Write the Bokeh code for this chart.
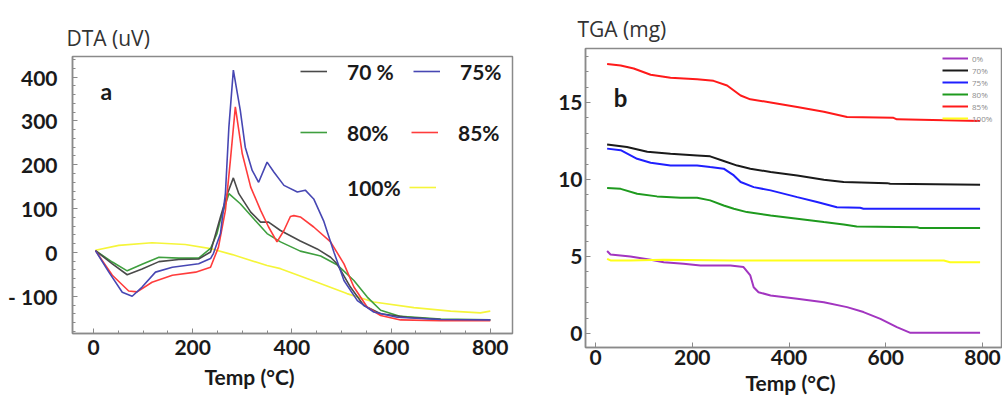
from bokeh.plotting import figure
from bokeh.models import Legend, LegendItem, Label, FixedTicker, Title
from bokeh.layouts import row, column
from bokeh.embed import file_html
from bokeh.resources import INLINE

# ---------------- Panel a: DTA (uV) ----------------
DTA_X_TICKS = [0, 200, 400, 600, 800]
DTA_Y_TICKS = [-100, 0, 100, 200, 300, 400]

T70 = [4, 38, 68, 98, 132, 172, 212, 236, 256, 270, 282, 293, 317, 337, 353, 377, 417, 451, 478, 491, 518, 545, 579, 632, 700, 800]
D70 = [4, -26, -51, -38, -21, -16, -15, 1, 81, 134, 170, 134, 92, 69, 69, 50, 26, 8, -11, -26, -79, -121, -140, -148, -153, -154]

T75 = [4, 31, 58, 78, 98, 125, 159, 212, 236, 242, 256, 266, 273, 282, 296, 306, 320, 333, 350, 364, 384, 411, 427, 444, 464, 485, 505, 532, 565, 612, 700, 800]
D75 = [4, -45, -91, -100, -79, -45, -34, -26, -14, -2, 43, 135, 286, 416, 324, 240, 187, 160, 206, 183, 153, 138, 142, 122, 72, 0, -64, -110, -136, -148, -153, -154]

T80 = [4, 38, 68, 98, 132, 172, 212, 236, 249, 256, 273, 296, 323, 350, 377, 417, 458, 491, 525, 552, 579, 619, 700, 800]
D80 = [4, -22, -42, -27, -11, -13, -13, 9, 43, 75, 134, 111, 77, 43, 24, 3, -8, -28, -64, -102, -132, -146, -152, -154]

T85 = [4, 38, 71, 88, 118, 159, 206, 236, 252, 266, 276, 286, 300, 317, 337, 353, 370, 384, 397, 404, 417, 444, 478, 505, 525, 552, 579, 619, 700, 800]
D85 = [4, -52, -88, -90, -68, -52, -45, -34, 12, 96, 210, 332, 225, 149, 96, 58, 24, 50, 82, 84, 81, 58, 24, -26, -79, -125, -144, -154, -156, -156]

T100 = [4, 51, 118, 185, 239, 280, 350, 377, 444, 511, 565, 646, 720, 780, 800]
D100 = [5, 16, 22, 18, 8, -5, -30, -37, -65, -94, -113, -126, -134, -138, -134]

# ---------------- Panel b: TGA (mg) ----------------
TGA_X_TICKS = [0, 200, 400, 600, 800]
TGA_Y_TICKS = [0, 5, 10, 15]

TG_T0 = [24, 31, 72, 114, 141, 182, 217, 279, 306, 320, 327, 337, 362, 417, 472, 520, 554, 589, 623, 651, 795]
TG_0 = [5.35, 5.13, 5.0, 4.78, 4.63, 4.52, 4.42, 4.42, 4.31, 3.77, 3.0, 2.68, 2.47, 2.25, 2.03, 1.71, 1.39, 0.95, 0.41, 0.04, 0.04]

TG_T70 = [24, 65, 107, 155, 210, 237, 265, 293, 320, 362, 417, 472, 513, 603, 609, 795]
TG_70 = [12.27, 12.1, 11.8, 11.67, 11.56, 11.5, 11.2, 10.9, 10.7, 10.48, 10.26, 9.98, 9.83, 9.76, 9.72, 9.65]

TG_T75 = [24, 52, 86, 114, 155, 210, 237, 265, 286, 300, 327, 362, 417, 458, 499, 547, 554, 795]
TG_75 = [12.0, 11.9, 11.34, 11.08, 10.9, 10.9, 10.8, 10.7, 10.26, 9.83, 9.5, 9.29, 8.85, 8.53, 8.2, 8.16, 8.1, 8.1]

TG_T80 = [24, 52, 86, 127, 176, 210, 237, 265, 286, 313, 362, 417, 472, 513, 540, 665, 671, 795]
TG_80 = [9.44, 9.39, 9.07, 8.9, 8.81, 8.81, 8.64, 8.31, 8.1, 7.88, 7.66, 7.45, 7.23, 7.08, 6.95, 6.9, 6.84, 6.84]

TG_T85 = [24, 52, 79, 114, 155, 210, 244, 272, 300, 320, 362, 417, 472, 520, 616, 623, 795]
TG_85 = [17.5, 17.4, 17.2, 16.8, 16.6, 16.5, 16.4, 16.1, 15.45, 15.2, 15.0, 14.7, 14.4, 14.05, 14.0, 13.9, 13.8]

TG_T100 = [24, 31, 72, 141, 279, 554, 720, 733, 795]
TG_100 = [4.85, 4.74, 4.74, 4.78, 4.74, 4.74, 4.74, 4.63, 4.63]

FRAME = "#8a8a8a"
TXT = "#1a1a1a"
BOLD_FONT = "Lato"


def style_axes(p):
    p.xgrid.visible = False
    p.ygrid.visible = False
    p.outline_line_color = FRAME
    p.outline_line_width = 1.5
    for ax in (p.xaxis[0], p.yaxis[0]):
        ax.axis_line_color = FRAME
        ax.axis_line_width = 1.5
        ax.major_tick_line_color = FRAME
        ax.minor_tick_line_color = FRAME
        ax.major_tick_in = 5
        ax.major_tick_out = 0
        ax.minor_tick_in = 3
        ax.minor_tick_out = 0
        ax.major_label_text_font = BOLD_FONT
        ax.major_label_text_font_style = "bold"
        ax.major_label_text_font_size = "21px"
        ax.major_label_text_color = TXT


def add_titles(p, top_text, top_offset, top_valign, bottom_text, bottom_offset, bottom_standoff):
    p.add_layout(Title(text=top_text, align="left", offset=top_offset,
                       text_font="Open Sans", text_font_size="21px",
                       text_font_style="normal", text_color="#333333",
                       vertical_align=top_valign), "above")
    p.add_layout(Title(text=bottom_text, align="left", offset=bottom_offset,
                       text_font=BOLD_FONT, text_font_size="21px",
                       text_font_style="bold", text_color=TXT,
                       standoff=bottom_standoff), "below")


# ---------- figure a ----------
p1 = figure(width=530, height=397, x_range=(-42.3, 844.8), y_range=(-185, 447),
            output_backend="svg", toolbar_location=None,
            min_border_left=72, min_border_right=18, min_border_top=56, min_border_bottom=64)
style_axes(p1)
p1.xaxis.ticker = FixedTicker(ticks=DTA_X_TICKS, minor_ticks=list(range(-50, 850, 50)))
p1.yaxis.ticker = FixedTicker(ticks=DTA_Y_TICKS, minor_ticks=list(range(-180, 441, 20)))
p1.yaxis.major_label_overrides = {-100: "- 100"}
p1.xaxis.major_label_standoff = 6
p1.yaxis.major_label_standoff = 15
add_titles(p1, "DTA (uV)", -6, "bottom", "Temp (°C)", 132, 8)

r100 = p1.line(T100, D100, line_color="#f5f53a", line_width=1.6)
r80 = p1.line(T80, D80, line_color="#3f9f3f", line_width=1.6)
r70 = p1.line(T70, D70, line_color="#4a4a4a", line_width=1.6)
r85 = p1.line(T85, D85, line_color="#ff3c3c", line_width=1.6)
r75 = p1.line(T75, D75, line_color="#4747b3", line_width=1.6)
r_blank = p1.line(x=[], y=[], line_alpha=0)

leg_a = dict(orientation="horizontal", glyph_width=27, glyph_height=26, label_height=26,
             label_width=50, label_standoff=20, padding=0, margin=0,
             border_line_color=None, background_fill_alpha=0,
             label_text_font=BOLD_FONT, label_text_font_style="bold",
             label_text_font_size="21px", label_text_color=TXT)
p1.add_layout(Legend(items=[LegendItem(label="70 %", renderers=[r70]),
                            LegendItem(label="75%", renderers=[r75])],
                     location=(228, 249), spacing=16, **leg_a))
p1.add_layout(Legend(items=[LegendItem(label="80%", renderers=[r80]),
                            LegendItem(label="85%", renderers=[r85])],
                     location=(228, 188), spacing=14, **leg_a))
p1.add_layout(Legend(items=[LegendItem(label="100%", renderers=[r_blank]),
                            LegendItem(label=" ", renderers=[r100])],
                     location=(228, 133), spacing=8, **leg_a))

p1.add_layout(Label(x=26, y=368, text="a", text_font=BOLD_FONT, text_font_style="bold",
                    text_font_size="23px", text_color=TXT, text_align="center",
                    text_baseline="middle"))

# ---------- figure b ----------
p2 = figure(width=472, height=397, x_range=(-20.7, 839.3), y_range=(-0.91, 18.5),
            output_backend="svg", toolbar_location=None,
            min_border_left=55, min_border_right=1, min_border_top=48, min_border_bottom=50)
style_axes(p2)
p2.xaxis.ticker = FixedTicker(ticks=TGA_X_TICKS)
p2.yaxis.ticker = FixedTicker(ticks=TGA_Y_TICKS, minor_ticks=list(range(0, 19)))
p2.xaxis.major_label_standoff = 2
p2.yaxis.major_label_standoff = 3
add_titles(p2, "TGA (mg)", -8, "middle", "Temp (°C)", 160, 0)

q0 = p2.line(TG_T0, TG_0, line_color="#a235c0", line_width=2)
q100 = p2.line(TG_T100, TG_100, line_color="#ffff1a", line_width=2)
q80 = p2.line(TG_T80, TG_80, line_color="#1e9a1e", line_width=2)
q75 = p2.line(TG_T75, TG_75, line_color="#1f1fff", line_width=2)
q70 = p2.line(TG_T70, TG_70, line_color="#1a1a1a", line_width=2)
q85 = p2.line(TG_T85, TG_85, line_color="#ff1a1a", line_width=2)

p2.add_layout(Legend(items=[LegendItem(label="0%", renderers=[q0]),
                            LegendItem(label="70%", renderers=[q70]),
                            LegendItem(label="75%", renderers=[q75]),
                            LegendItem(label="80%", renderers=[q80]),
                            LegendItem(label="85%", renderers=[q85]),
                            LegendItem(label="100%", renderers=[q100])],
                     location=(357, 223), orientation="vertical", glyph_width=26,
                     glyph_height=12, label_height=12, label_standoff=4, spacing=0,
                     padding=0, margin=0, border_line_color=None, background_fill_alpha=0,
                     label_text_font="Open Sans", label_text_font_size="8px",
                     label_text_color="#8c8c8c"))

p2.add_layout(Label(x=52, y=15.3, text="b", text_font=BOLD_FONT, text_font_style="bold",
                    text_font_size="24px", text_color=TXT, text_align="center",
                    text_baseline="middle"))

layout = row(column(p1), column(p2))
open("out.html", "w").write(file_html(layout, INLINE))
